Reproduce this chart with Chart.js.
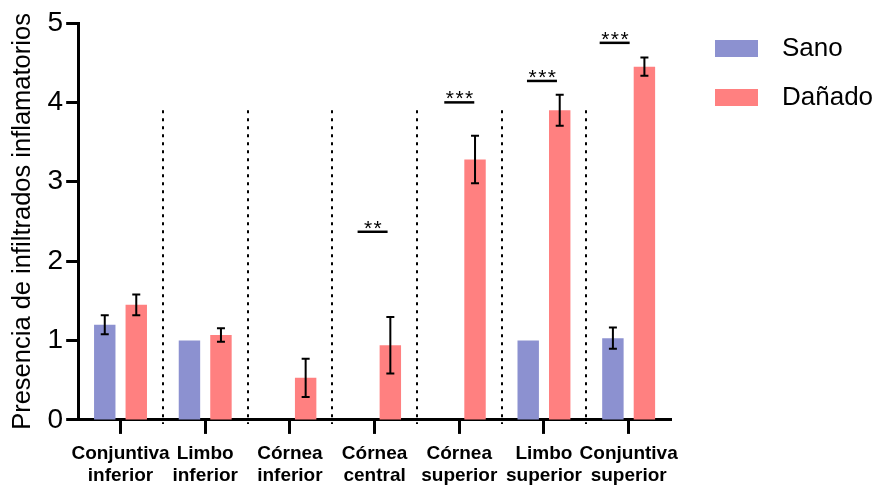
<!DOCTYPE html>
<html>
<head>
<meta charset="utf-8">
<script src="https://cdn.jsdelivr.net/npm/chart.js@4.4.0/dist/chart.umd.min.js"></script>
<style>
  body { margin: 0; background: #fff; }
  .chart-box { width: 885px; height: 486px; position: relative; }
</style>
</head>
<body>
<div class="chart-box"><canvas id="chart"></canvas></div>
<script>
// data
const categories = [
  ['Conjuntiva', 'inferior'],
  ['Limbo', 'inferior'],
  ['Córnea', 'inferior'],
  ['Córnea', 'central'],
  ['Córnea', 'superior'],
  ['Limbo', 'superior'],
  ['Conjuntiva', 'superior']
];
const seriesNames = ['Sano', 'Dañado'];
const sanoValues = [1.2, 1.0, 0, 0, 0, 1.0, 1.03];
const sanoErrors = [0.12, 0, 0, 0, 0, 0, 0.135];
const danadoValues = [1.45, 1.07, 0.53, 0.94, 3.28, 3.9, 4.45];
const danadoErrors = [0.13, 0.085, 0.24, 0.355, 0.3, 0.195, 0.115];
const yTicks = [0, 1, 2, 3, 4, 5];

// significance marks: category index, bar height (y units), label
const sigCategories = [3, 4, 5, 6];
const sigHeights = [2.37, 4.0, 4.27, 4.75];
const sigLabels = ['**', '***', '***', '***'];

const FONT = "'Liberation Sans', Arial, sans-serif";
const sanoColor = 'rgb(140, 145, 208)';
const danadoColor = 'rgb(255, 128, 128)';

const errorBarsPlugin = {
  id: 'errorBars',
  afterDatasetsDraw(chart) {
    const ctx = chart.ctx;
    const y = chart.scales.y;
    ctx.save();
    ctx.strokeStyle = '#000';
    ctx.lineWidth = 2;
    chart.data.datasets.forEach((ds, d) => {
      const meta = chart.getDatasetMeta(d);
      meta.data.forEach((bar, i) => {
        const err = ds.errors[i];
        if (!err) return;
        const v = ds.data[i];
        const top = y.getPixelForValue(v + err);
        const bot = y.getPixelForValue(v - err);
        ctx.beginPath();
        ctx.moveTo(bar.x, top);
        ctx.lineTo(bar.x, bot);
        ctx.moveTo(bar.x - 4, top);
        ctx.lineTo(bar.x + 4, top);
        ctx.moveTo(bar.x - 4, bot);
        ctx.lineTo(bar.x + 4, bot);
        ctx.stroke();
      });
    });
    ctx.restore();
  }
};

const separatorsPlugin = {
  id: 'separators',
  afterDatasetsDraw(chart) {
    const ctx = chart.ctx;
    const x = chart.scales.x;
    const y = chart.scales.y;
    ctx.save();
    ctx.strokeStyle = '#000';
    ctx.lineWidth = 2;
    ctx.setLineDash([3, 5]);
    for (let i = 0; i < categories.length - 1; i++) {
      const px = Math.round((x.getPixelForValue(i) + x.getPixelForValue(i + 1)) / 2);
      ctx.beginPath();
      ctx.moveTo(px, y.getPixelForValue(3.9));
      ctx.lineTo(px, y.getPixelForValue(0) + 4);
      ctx.stroke();
    }
    ctx.restore();
  }
};

const significancePlugin = {
  id: 'significance',
  afterDatasetsDraw(chart, args, opts) {
    const ctx = chart.ctx;
    const x = chart.scales.x;
    const y = chart.scales.y;
    ctx.save();
    ctx.strokeStyle = '#000';
    ctx.fillStyle = '#000';
    ctx.lineWidth = 2.5;
    ctx.font = '21px ' + FONT;
    ctx.letterSpacing = '1.5px';
    ctx.textAlign = 'center';
    sigCategories.forEach((c, k) => {
      const cx = x.getPixelForValue(c) + opts.shifts[k];
      const py = y.getPixelForValue(sigHeights[k]);
      ctx.beginPath();
      ctx.moveTo(cx - 15, py);
      ctx.lineTo(cx + 15, py);
      ctx.stroke();
      ctx.fillText(sigLabels[k], cx + 1, py + 3);
    });
    ctx.restore();
  }
};

const legendPlugin = {
  id: 'sideLegend',
  afterDraw(chart) {
    const ctx = chart.ctx;
    const left = chart.chartArea.right + 44;
    ctx.save();
    ctx.font = '26px ' + FONT;
    ctx.textBaseline = 'middle';
    chart.data.datasets.forEach((ds, d) => {
      const top = 40 + d * 49;
      ctx.fillStyle = ds.backgroundColor;
      ctx.fillRect(left, top, 43, 17);
      ctx.fillStyle = '#000';
      ctx.fillText(ds.label, left + 67, top + 9);
    });
    ctx.restore();
  }
};

new Chart(document.getElementById('chart'), {
  type: 'bar',
  data: {
    labels: categories,
    datasets: [
      { label: seriesNames[0], data: sanoValues, errors: sanoErrors, backgroundColor: sanoColor },
      { label: seriesNames[1], data: danadoValues, errors: danadoErrors, backgroundColor: danadoColor }
    ]
  },
  options: {
    responsive: true,
    maintainAspectRatio: false,
    animation: false,
    categoryPercentage: 0.744,
    barPercentage: 0.68,
    layout: {
      padding: { left: 8, right: 214, top: 23, bottom: -10 }
    },
    plugins: {
      legend: { display: false },
      tooltip: { enabled: false },
      significance: { shifts: [-2, 0, -2, -14] }
    },
    scales: {
      x: {
        grid: {
          offset: false,
          drawOnChartArea: false,
          drawTicks: true,
          tickLength: 14,
          tickWidth: 3,
          tickColor: '#000',
          color: '#000'
        },
        border: { display: true, color: '#000', width: 3 },
        ticks: {
          color: '#000',
          autoSkip: false,
          maxRotation: 0,
          padding: 9,
          font: { family: FONT, size: 19, weight: 'bold', lineHeight: 1.16 }
        }
      },
      y: {
        min: 0,
        max: 5,
        afterBuildTicks: axis => { axis.ticks = yTicks.map(v => ({ value: v })); },
        grid: {
          drawOnChartArea: false,
          drawTicks: true,
          tickLength: 12,
          tickWidth: 3,
          tickColor: '#000',
          color: '#000'
        },
        border: { display: true, color: '#000', width: 3 },
        ticks: {
          color: '#000',
          padding: 3,
          font: { family: FONT, size: 28 }
        },
        title: {
          display: true,
          text: 'Presencia de infiltrados inflamatorios',
          color: '#000',
          padding: { top: 0, bottom: 6 },
          font: { family: FONT, size: 25.5 }
        }
      }
    }
  },
  plugins: [separatorsPlugin, errorBarsPlugin, significancePlugin, legendPlugin]
});
</script>
</body>
</html>
